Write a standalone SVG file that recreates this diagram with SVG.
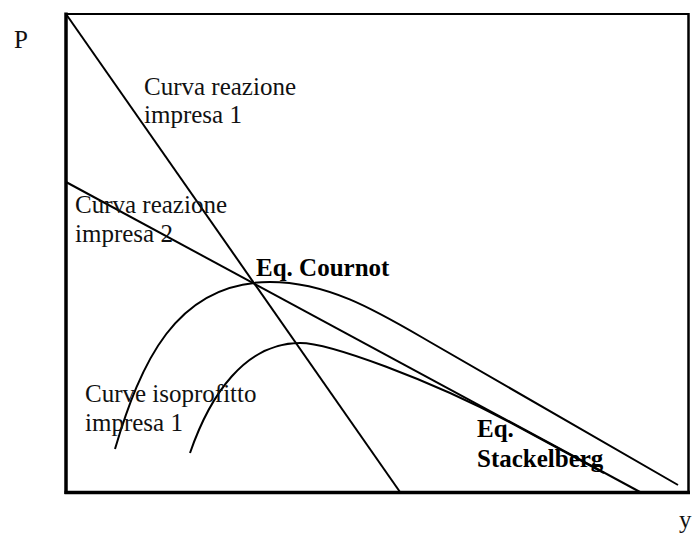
<svg xmlns="http://www.w3.org/2000/svg" width="693" height="538" viewBox="0 0 693 538">
  <style>
    .ln { fill: none; stroke: #000; stroke-width: 2; stroke-linecap: butt; }
    .ax { fill: none; stroke: #000; }
    .t { font-family: "Liberation Serif", "Times New Roman", serif; font-size: 25px; fill: #111; }
    .b { font-weight: bold; fill: #000; }
  </style>
  <rect width="693" height="538" fill="#fff"/>
  <g id="frame">
    <line class="ax" x1="66" y1="14" x2="689" y2="14" stroke-width="2"/>
    <line class="ax" x1="688.5" y1="13" x2="688.5" y2="493" stroke-width="2.5"/>
    <line class="ax" x1="66" y1="12.5" x2="66" y2="494" stroke-width="3.5"/>
    <line class="ax" x1="64.5" y1="492.5" x2="690" y2="492.5" stroke-width="3.5"/>
  </g>
  <g id="connectors">
    <line id="reaction1" class="ln" x1="66" y1="14" x2="400" y2="492"/>
    <line id="reaction2" class="ln" x1="66" y1="182" x2="640" y2="492"/>
    <path id="isoprofit-outer" class="ln" d="M115,449 C140,365 175,282 270,282 C330,282 380,313 430,342 L678,485"/>
    <path id="isoprofit-inner" class="ln" d="M190,453 C210,395 245,343 300,343 C330,343 430,380 510,422.3 L604,473"/>
  </g>
  <g id="labels">
    <text class="t" x="14" y="48" font-size="26">P</text>
    <text class="t" x="679" y="528">y</text>
    <g id="label-reaction1">
      <text class="t" x="144" y="95">Curva reazione</text>
      <text class="t" x="144" y="123">impresa 1</text>
    </g>
    <g id="label-reaction2">
      <text class="t" x="75" y="213">Curva reazione</text>
      <text class="t" x="75" y="242">impresa 2</text>
    </g>
    <g id="label-cournot">
      <text class="t b" x="256" y="276">Eq. Cournot</text>
    </g>
    <g id="label-isoprofit">
      <text class="t" x="85" y="402">Curve isoprofitto</text>
      <text class="t" x="85" y="431">impresa 1</text>
    </g>
    <g id="label-stackelberg">
      <text class="t b" x="477" y="437">Eq.</text>
      <text class="t b" x="477" y="467">Stackelberg</text>
    </g>
  </g>
</svg>
